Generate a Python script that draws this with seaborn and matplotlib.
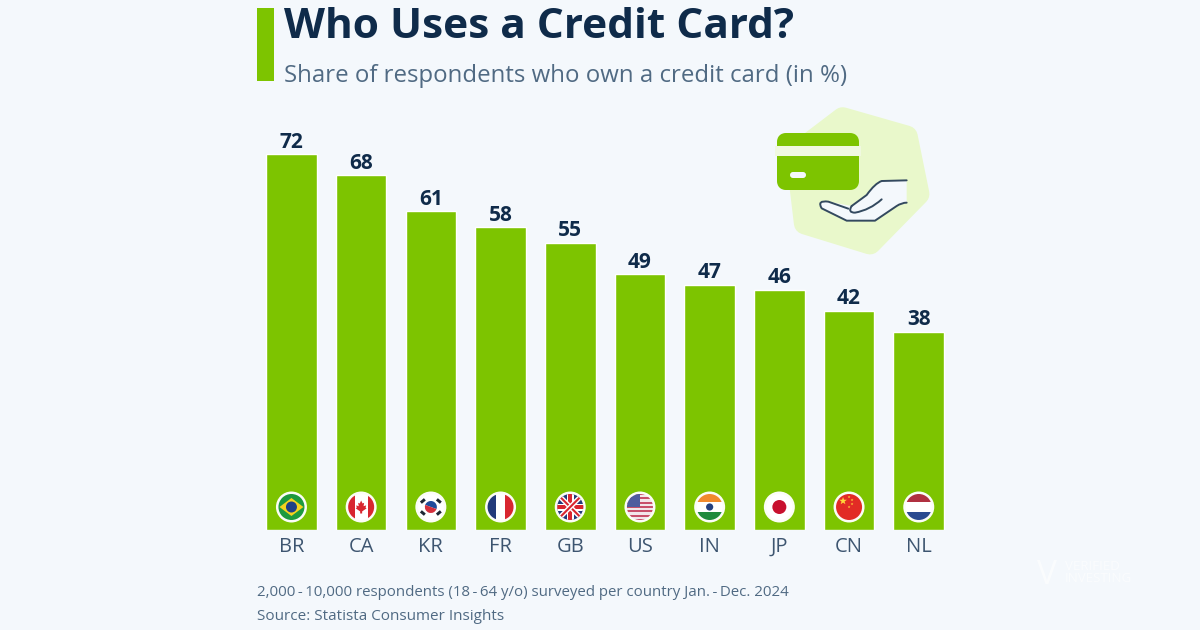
import matplotlib
matplotlib.use("Agg")
import matplotlib.pyplot as plt
import numpy as np
import pandas as pd
import seaborn as sns
from matplotlib.patches import Circle, FancyBboxPatch, PathPatch, Polygon, Rectangle, Wedge
from matplotlib.path import Path

countries = ["BR", "CA", "KR", "FR", "GB", "US", "IN", "JP", "CN", "NL"]
shares = [72, 68, 61, 58, 55, 49, 47, 46, 42, 38]

title = "Who Uses a Credit Card?"
subtitle = "Share of respondents who own a credit card (in %)"
note = "2,000\u2009-\u200910,000 respondents (18\u2009-\u200964 y/o) surveyed per country Jan.\u2009-\u2009Dec. 2024"
source = "Source: Statista Consumer Insights"

BG = "#f4f8fc"
GREEN = "#7dc400"
NAVY = "#0f2b4a"
SLATE = "#506a83"

sns.set_theme(style="white")
plt.rcParams["font.family"] = ["Open Sans", "DejaVu Sans"]

df = pd.DataFrame({"country": countries, "share": shares})

fig = plt.figure(figsize=(12, 6.3), dpi=100, facecolor=BG)
ax = fig.add_axes([256.6 / 1200, 100 / 630, 697 / 1200, 430 / 630], facecolor="none")
sns.barplot(data=df, x="country", y="share", color=GREEN, saturation=1, width=0.725, ax=ax)
ax.set_xlim(-0.5, 9.5)
ax.set_ylim(0, 430 / 5.222)
ax.set_xlabel("")
ax.set_ylabel("")
ax.set_yticks([])
ax.tick_params(axis="x", length=0, pad=5, labelsize=14.5, labelcolor="#3d5570")
sns.despine(ax=ax, left=True, bottom=True)
ax.bar_label(ax.containers[0], fontsize=15, fontweight="bold", color=NAVY, padding=1)

# overlay in pixel coordinates for header, flags and the icon
ov = fig.add_axes([0, 0, 1, 1], facecolor="none")
ov.set_xlim(0, 1200)
ov.set_ylim(630, 0)
ov.axis("off")

ov.add_patch(Rectangle((257, 8), 17, 73, color=GREEN, lw=0))
ov.text(284, 27, title, fontsize=30.5, fontweight="bold", color=NAVY, va="center", ha="left")
ov.text(284, 76, subtitle, fontsize=17.3, color=SLATE, va="center", ha="left")
ov.text(257, 593, note, fontsize=10.83, color=SLATE, va="center", ha="left")
ov.text(257, 617, source, fontsize=11, color=SLATE, va="center", ha="left")

# watermark
ov.text(1047, 575, "V", fontsize=24, color="white", alpha=0.6, va="center", ha="center")
ov.text(1065, 567, "VERIFIED", fontsize=9.6, color="white", alpha=0.6, va="center", ha="left")
ov.text(1065, 579, "INVESTING", fontsize=9.6, color="white", alpha=0.6, va="center", ha="left")


def z(x, y):
    # reference zoom crop coordinates to pixels
    return (760 + x / 3, 100 + y / 3)


# icon
blob = Polygon([z(*p) for p in [(248, 55), (440, 110), (475, 282), (330, 430), (135, 370), (110, 160)]],
               closed=True, fc="#e9f8cb", ec="#e9f8cb", lw=16, joinstyle="round")
ov.add_patch(blob)
ov.add_patch(FancyBboxPatch((781, 137), 74, 49, boxstyle="round,pad=0,rounding_size=5",
                            fc=GREEN, ec=GREEN, lw=8 * 0.72, joinstyle="round"))
ov.add_patch(Rectangle((775, 146), 86, 10, color="#f0f9e0", lw=0))
ov.add_patch(FancyBboxPatch((790, 172), 16, 6, boxstyle="round,pad=0,rounding_size=3", fc="#f4f8fc", ec="none"))

M, L, C = Path.MOVETO, Path.LINETO, Path.CURVE3
hand_pts = [(440, 241), (365, 243), (345, 250), (320, 285), (275, 318), (205, 305), (170, 300), (185, 325),
            (260, 362), (345, 362), (410, 318), (440, 308), (440, 241)]
hand_codes = [M, L, C, C, L, L, C, C, L, L, L, L, L]
ov.add_patch(PathPatch(Path([z(*p) for p in hand_pts], hand_codes), fc=BG, ec="none"))
ink = dict(fc="none", ec="#33495f", lw=1.4, capstyle="round", joinstyle="round")
ov.add_patch(PathPatch(Path([z(*p) for p in [(440, 241), (365, 243), (345, 250), (320, 285), (275, 318)]],
                            [M, L, C, C, L]), **ink))
ov.add_patch(PathPatch(Path([z(*p) for p in [(275, 318), (262, 338), (285, 338), (330, 330), (365, 298)]],
                            [M, C, C, C, C]), **ink))
ov.add_patch(PathPatch(Path([z(*p) for p in [(265, 326), (205, 305), (170, 300), (185, 325), (260, 362),
                                             (345, 362), (410, 318), (425, 308), (440, 308)]],
                            [M, L, C, C, L, L, L, C, C]), **ink))


# flags
def stripes(cx, cy, clip, colors, r=14):
    n = len(colors)
    for i, c in enumerate(colors):
        clipped(Rectangle((cx - r, cy - r + 2 * r * i / n), 2 * r, 2 * r / n, fc=c, lw=0), clip)


def clipped(patch, clip):
    ov.add_patch(patch)
    patch.set_clip_path(clip)


def star(cx, cy, r, color, clip):
    ang = np.deg2rad(-90 + 36 * np.arange(10))
    rad = np.where(np.arange(10) % 2 == 0, r, r * 0.4)
    clipped(Polygon(np.c_[cx + rad * np.cos(ang), cy + rad * np.sin(ang)], fc=color, lw=0), clip)


RED = "#d8262f"
BLUE = "#223a7a"
FLAG_Y = 507
centers = ax.get_xticks()

for code, pos in zip(countries, centers):
    cx = ax.transData.transform((pos, 0))[0]
    cy = FLAG_Y
    ov.add_patch(Circle((cx, cy), 15.5, fc="#fbfdf6", lw=0))
    clip = Circle((cx, cy), 13, transform=ov.transData)
    if code == "BR":
        clipped(Circle((cx, cy), 14, fc="#1d9a3e", lw=0), clip)
        clipped(Polygon([(cx - 12, cy), (cx, cy - 9), (cx + 12, cy), (cx, cy + 9)], fc="#f4d21f", lw=0), clip)
        clipped(Circle((cx, cy), 5.5, fc="#1f3f86", lw=0), clip)
    elif code == "CA":
        clipped(Circle((cx, cy), 14, fc="white", lw=0), clip)
        clipped(Rectangle((cx - 14, cy - 14), 7.5, 28, fc=RED, lw=0), clip)
        clipped(Rectangle((cx + 6.5, cy - 14), 7.5, 28, fc=RED, lw=0), clip)
        leaf = [(0, -6.5), (1.4, -3.5), (3, -4.2), (2.4, -0.8), (5, -1.6), (4.4, 0.6), (5.4, 1.4), (1, 4.4),
                (1, 6.5), (-1, 6.5), (-1, 4.4), (-5.4, 1.4), (-4.4, 0.6), (-5, -1.6), (-2.4, -0.8), (-3, -4.2), (-1.4, -3.5)]
        clipped(Polygon([(cx + a, cy + b) for a, b in leaf], fc=RED, lw=0), clip)
    elif code == "KR":
        clipped(Circle((cx, cy), 14, fc="white", lw=0), clip)
        clipped(Wedge((cx, cy), 6, 200, 20, fc="#1f4a9a", lw=0), clip)
        clipped(Wedge((cx, cy), 6, 20, 200, fc="#d32f3c", lw=0), clip)
        for dx, dy, a in [(-8, -6, -40), (8, -6, 40), (-8, 6, 40), (8, 6, -40)]:
            bar = Rectangle((cx + dx - 2.6, cy + dy - 1.5), 5.2, 3, fc="#1d2733", lw=0,
                            angle=a, rotation_point="center")
            clipped(bar, clip)
    elif code == "FR":
        clipped(Circle((cx, cy), 14, fc="white", lw=0), clip)
        clipped(Rectangle((cx - 14, cy - 14), 9.5, 28, fc=BLUE, lw=0), clip)
        clipped(Rectangle((cx + 4.5, cy - 14), 9.5, 28, fc=RED, lw=0), clip)
    elif code == "GB":
        clipped(Circle((cx, cy), 14, fc=BLUE, lw=0), clip)
        for sign in (1, -1):
            ln, = ov.plot([cx - 14, cx + 14], [cy - 14 * sign, cy + 14 * sign], color="white", lw=3.6, solid_capstyle="butt")
            ln.set_clip_path(clip)
            ln, = ov.plot([cx - 14, cx + 14], [cy - 14 * sign, cy + 14 * sign], color=RED, lw=1.5, solid_capstyle="butt")
            ln.set_clip_path(clip)
        clipped(Rectangle((cx - 14, cy - 3.5), 28, 7, fc="white", lw=0), clip)
        clipped(Rectangle((cx - 3.5, cy - 14), 7, 28, fc="white", lw=0), clip)
        clipped(Rectangle((cx - 14, cy - 2), 28, 4, fc=RED, lw=0), clip)
        clipped(Rectangle((cx - 2, cy - 14), 4, 28, fc=RED, lw=0), clip)
    elif code == "US":
        stripes(cx, cy, clip, ["#c8506a", "#f2e6ea"] * 6 + ["#c8506a"])
        clipped(Rectangle((cx - 14, cy - 14), 14, 14, fc="#4f5c9e", lw=0), clip)
    elif code == "IN":
        stripes(cx, cy, clip, ["#f08a2c", "white", "#1f8a3c"])
        clipped(Circle((cx, cy), 3.6, fc="#24407f", lw=0), clip)
    elif code == "JP":
        clipped(Circle((cx, cy), 14, fc="white", lw=0), clip)
        clipped(Circle((cx, cy), 7, fc="#c8102e", lw=0), clip)
    elif code == "CN":
        clipped(Circle((cx, cy), 14, fc="#e22b25", lw=0), clip)
        star(cx - 6, cy - 6, 4, "#ffd83a", clip)
        for dx, dy in [(0, -10), (3, -7), (3, -3), (0, 0)]:
            star(cx + dx, cy + dy, 1.4, "#ffd83a", clip)
    elif code == "NL":
        stripes(cx, cy, clip, ["#b03040", "white", "#2a4a90"])

fig.savefig("out.png", dpi=100, facecolor=BG)
